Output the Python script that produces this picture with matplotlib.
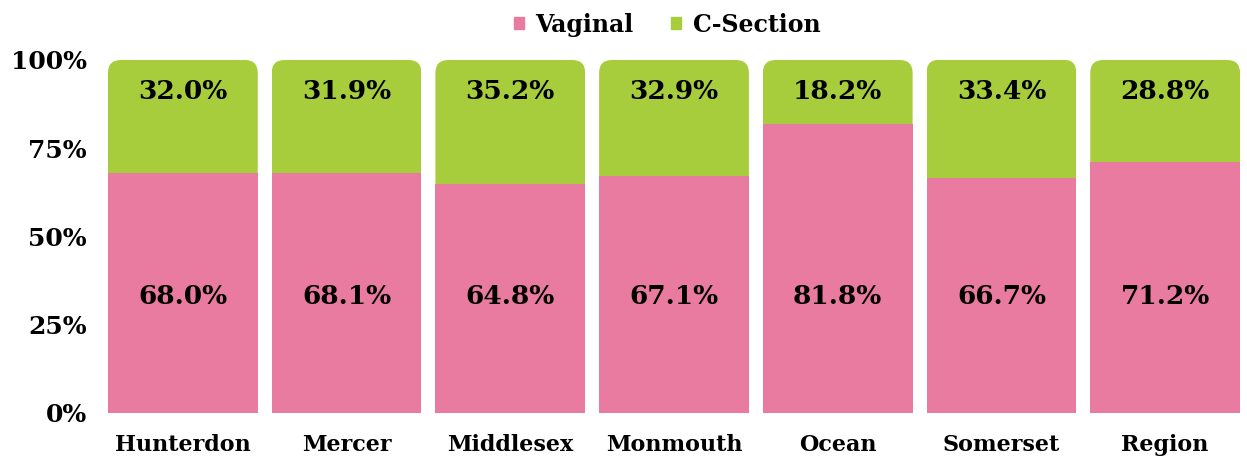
import matplotlib
matplotlib.use("Agg")
import matplotlib.pyplot as plt
from matplotlib.patches import FancyBboxPatch, Patch

# data
counties = ["Hunterdon", "Mercer", "Middlesex", "Monmouth", "Ocean", "Somerset", "Region"]
vaginal = [68.0, 68.1, 64.8, 67.1, 81.8, 66.7, 71.2]
csection = [32.0, 31.9, 35.2, 32.9, 18.2, 33.4, 28.8]
yticks = [0, 25, 50, 75, 100]

pink = "#E97AA0"
green = "#A8CD3C"

plt.rcParams["font.family"] = ["DejaVu Serif"]
plt.rcParams["font.weight"] = "bold"

fig = plt.figure(figsize=(12.47, 4.65), dpi=100)
ax = fig.add_axes([0.081, 0.112, 0.919, 0.759])

x = list(range(len(counties)))
width = 0.915
top = [v + c for v, c in zip(vaginal, csection)]

ax.bar(x, vaginal, width=width, color=pink, zorder=2)
green_bars = ax.bar(x, csection, bottom=vaginal, width=width, color=green, zorder=2)

ax.set_xlim(-0.5, 6.5)
ax.set_ylim(0, 100)

# round the top corners of the stacked bars
fig.canvas.draw()
px_x = ax.transData.transform((1, 0))[0] - ax.transData.transform((0, 0))[0]
px_y = ax.transData.transform((0, 1))[1] - ax.transData.transform((0, 0))[1]
radius_px = 13
rad = radius_px / px_x
aspect = px_x / px_y
for xi, bar, t in zip(x, green_bars, top):
    clip = FancyBboxPatch((xi - width / 2, 0), width, t,
                          boxstyle=f"round,pad=0,rounding_size={rad}",
                          mutation_aspect=aspect, transform=ax.transData)
    bar.set_clip_path(clip)

# labels: vaginal ones sit at a fixed height above the base, c-section near the top
for xi, v, c, t in zip(x, vaginal, csection, top):
    ax.annotate(f"{v:.1f}%", (xi, 0), xytext=(0, 116), textcoords="offset pixels",
                ha="center", va="center", fontsize=19, fontweight="bold", zorder=3)
    ax.annotate(f"{c:.1f}%", (xi, t), xytext=(0, -32), textcoords="offset pixels",
                ha="center", va="center", fontsize=19, fontweight="bold", zorder=3)

ax.set_yticks(yticks)
ax.set_yticklabels([f"{t}%" for t in yticks], fontsize=18, fontweight="bold")
ax.set_xticks(x)
ax.set_xticklabels(counties, fontsize=16, fontweight="bold")
ax.tick_params(length=0)
ax.tick_params(axis="y", pad=10)
ax.tick_params(axis="x", pad=15)
for s in ax.spines.values():
    s.set_visible(False)

handles = [Patch(color=pink, label="Vaginal"), Patch(color=green, label="C-Section")]
fig.legend(handles=handles, loc="upper center", bbox_to_anchor=(0.535, 1.018), ncol=2,
           frameon=False, prop={"size": 17, "weight": "bold"},
           handlelength=0.4, handleheight=0.4, handletextpad=0.5, columnspacing=1.6)

fig.savefig("out.png", dpi=100)
